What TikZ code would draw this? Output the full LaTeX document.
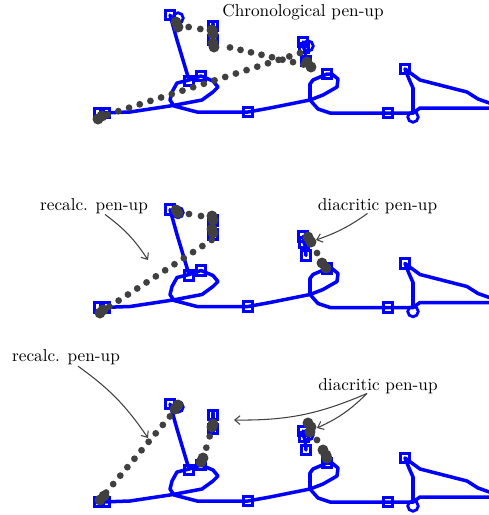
\documentclass[tikz,border=0pt]{standalone}
\usepackage{tikz}
\usetikzlibrary{
    arrows.meta,
    calc
}
\tikzstyle{ink} = [
    draw=blue,
    line width=2pt,
    line join=round,
    line cap=round
]
\tikzstyle{arrow} = [
    draw=black!75,
    line width=0.6pt,
    -{Straight Barb[length=3pt,width=5pt]}
]

\begin{document}
\begin{tikzpicture}[
    x=0.02cm, y=-0.02cm,
    sqmark/.style={draw=blue, line width=1.6pt},
    ringmark/.style={draw=blue, line width=1.6pt},
    pendot/.style={fill=black!75},
    note/.style={anchor=base, inner sep=1pt, font=\fontsize{9.8}{12}\selectfont}
]
\useasboundingbox (0,0) rectangle (489,515);
\clip (0,0) rectangle (489,515);

% Schriftzug, dreimal untereinander
\foreach \yoff in {0,194.5,389} {
\begin{scope}[shift={(0,\yoff)}]
    \draw[ink] (101,113) -- (130,112) -- (173,105.5) -- (202,100) -- (213,92) -- (218,87) -- (213,81) -- (201,76) -- (189,80) -- (177,83) -- (172,92) -- (170,100) -- (174,106) -- (197,112) -- (248,112) -- (270,108) -- (310,100) -- (323,95) -- (337,87) -- (338,79) -- (332,74) -- (327,74) -- (313,80) -- (310,84) -- (310,100) -- (318,109) -- (330,113) -- (388,113) -- (413,113) -- (420,108) -- (495,108);
    \draw[ink] (170,15) -- (177,40) -- (189,80);
    \draw[ink] (213,24) -- (213,44);
    \draw[ink] (303,42) -- (305,50) -- (306,61);
    \draw[ink] (405,69) -- (409,79) -- (413,88) -- (413,113);
    \draw[ink] (405,69) -- (420,80) -- (467,92) -- (478,99) -- (495,105);
    % Marker
    \foreach \p in {(99,113),(105,113),(170,15),(189,81),(201,76),(213,26),(213,40),(248,112),(303,42),(304,48),(306,61),(327,74),(388,113),(405,69)}
        \draw[sqmark] \p +(-4.75,-4.75) rectangle +(4.75,4.75);
    \foreach \p in {(178,18),(308,46),(413,117)}
        \draw[ringmark] \p circle[radius=0.105cm];
\end{scope}
}

% Panel 1: chronologische Pen-ups
\coordinate (c1a) at (177,25);
\coordinate (c1b) at (212,31);
\coordinate (c2a) at (219.5,45);
\coordinate (c2b) at (314,67);
\coordinate (c3a) at (97,118);
\coordinate (c3b) at (300,53);
\foreach \i in {1,2}
    \fill[pendot] ($(c1a)!\i/3!(c1b)$) circle[radius=0.068cm];
\foreach \i in {1,...,8}
    \fill[pendot] ($(c2a)!\i/9!(c2b)$) circle[radius=0.068cm];
\foreach \i in {1,...,19}
    \fill[pendot] ($(c3a)!\i/19!(c3b)$) circle[radius=0.068cm];
\foreach \p in {(176,22),(178,27),(212,30),(213,34),(213,43),(214,47),(307,62),(311,67),(98,119),(102,116)}
    \fill[pendot] \p circle[radius=0.11cm];

% Panel 2: neu berechnete Pen-ups
\coordinate (r1a) at (177,212);
\coordinate (r1b) at (213,218);
\coordinate (r2a) at (211.7,240);
\coordinate (r2b) at (100,312.7);
\foreach \i in {1,2}
    \fill[pendot] ($(r1a)!\i/3!(r1b)$) circle[radius=0.068cm];
\foreach \i in {0,...,11}
    \fill[pendot] ($(r2a)!\i/12!(r2b)$) circle[radius=0.068cm];
\fill[pendot] (317,253) circle[radius=0.068cm];
\foreach \p in {(176,210),(178,213),(212,216),(213,220),(212,229),(213,233),(100,313),(103,310),(308,237),(311,242),(322,263),(326,268)}
    \fill[pendot] \p circle[radius=0.11cm];

% Panel 3: neu berechnete Pen-ups mit Diakritika
\coordinate (d1a) at (177,408);
\coordinate (d1b) at (99,501);
\coordinate (d2a) at (213,425);
\coordinate (d2b) at (203,459);
\foreach \i in {1,...,10}
    \fill[pendot] ($(d1a)!\i/11!(d1b)$) circle[radius=0.068cm];
\foreach \i in {1,2}
    \fill[pendot] ($(d2a)!\i/3!(d2b)$) circle[radius=0.068cm];
\fill[pendot] (317,440) circle[radius=0.068cm];
\foreach \p in {(178,405),(175,409),(100,500),(104,496),(213,424),(212,427),(203,458),(201,462),(308,423),(311,427),(310,432),(323,450),(326,455),(327,458)}
    \fill[pendot] \p circle[radius=0.11cm];

% Beschriftungen
\node[note] (chron) at (303,16) {Chronological pen-up};
\node[note] (recalcA) at (94,210) {recalc. pen-up};
\node[note] (diacA) at (377.5,210) {diacritic pen-up};
\node[note] (recalcB) at (66,361.7) {recalc. pen-up};
\node[note] (diacB) at (378,390) {diacritic pen-up};

\coordinate (recalcA-tip) at (148,260);
\coordinate (diacA-tip) at (316,240);
\coordinate (recalcB-tip) at (148,438);
\coordinate (diacB-tip1) at (234,420);
\coordinate (diacB-tip2) at (317,428);

\draw[arrow] ($(recalcA.south)+(11,-1)$) to[bend left=10] (recalcA-tip);
\draw[arrow] ($(diacA.south)+(-10,-2)$) to[bend left=8] (diacA-tip);
\draw[arrow] ($(recalcB.south)+(12,-1)$) to[bend left=10] (recalcB-tip);
\draw[arrow] ($(diacB.south)+(-11,-2)$) to[bend left=12] (diacB-tip1);
\draw[arrow] ($(diacB.south)+(-11,-2)$) to[bend left=10] (diacB-tip2);

\end{tikzpicture}
\end{document}
